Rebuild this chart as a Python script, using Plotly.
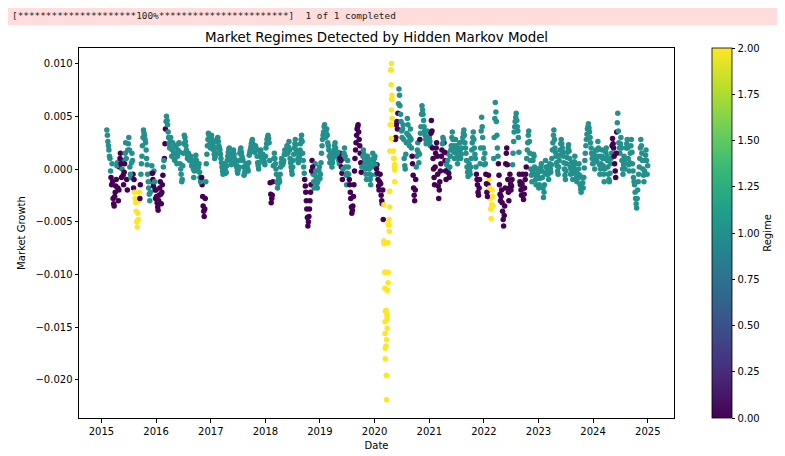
import pandas as pd
import plotly.graph_objects as go

# Readings of the rolling market growth, in thousandths, taken twice a week:
# on each Friday (from 2015-02-06) and on the Tuesday that follows it.
# Regime strings hold one digit per reading.

fri_2015 = [3.7, 2.6, 1.8, 1.0, -0.8, 0.5, -2.8, -3.5, -2.2, -1.0, 0.6, -3.0,
            0.2, 1.5, -0.8, 0.8, -1.5, 0.5, 2.5, -1.0, 1.8, 3.0, 0.2, -0.8, 1.5, -0.5,
            -1.0, -2.8, -4.0, -5.5, -4.8, -2.2, -1.5, 0.5, 2.2, 3.7, 3.2, 2.5, 1.0,
            -0.5, -1.8, -3.0, -1.2, 0.3, -1.0, -0.2, -2.0]
fri_reg_2015 = "1111" "0100" "0010" "00010" "0101" "11110" "0222" "2201" "11111" "1111" "1010"
tue_2015 = [3.2, 2.2, 1.2, -0.2, -1.5, -1.2, -3.3, -2.6, -1.6, 0.3, -1.8, -2.0,
            1.0, 0.5, 0.0, -0.6, -0.3, 1.5, 1.0, -2.0, 2.4, 1.8, -0.5, 0.6, 0.8, -1.8,
            -2.2, -3.2, -5.0, -4.2, -3.0, -2.8, -0.5, 1.2, 3.0, 3.4, 2.8, 1.8, 0.4,
            -1.2, -2.4, -2.2, -0.4, -0.4, -1.6, -1.2, -2.8]
tue_reg_2015 = "1111" "0000" "0100" "00100" "1101" "11110" "2222" "2011" "11111" "1111" "0010"

fri_2016 = [-2.0, -3.2, -3.9, -2.5, -1.2, -3.3, -1.5, 0.2, 1.0, 3.8, 5.0, 4.2, 3.0,
            2.0, 3.0, 1.2, 2.5, 1.5, 0.8, 2.2, 0.5, 1.8, 2.5, 0.5, -0.5, -1.0,
            1.5, 3.2, 2.6, 1.8, 1.0, 1.5, 0.8, 1.2, 0.3, 0.6, -0.8, 0.4, 1.3, 0.2,
            -0.2, 0.5, -0.8, -1.0, -1.5, -3.5, -4.5, -2.8, 0.5, 2.2, 3.4, 2.8, 2.0]
fri_reg_2016 = "00000" "0010" "0111" "11111" "1111" "1111" "11111" "1111" "11111" "1111" "0000" "11111"
tue_2016 = [-2.6, -3.6, -3.0, -1.8, -2.4, -2.2, -0.6, 0.8, 2.4, 4.5, 4.6, 3.5, 2.4,
            2.6, 2.0, 1.8, 2.0, 0.9, 1.5, 1.4, 1.2, 2.4, 1.6, 0.0, -1.2, 0.3,
            2.4, 3.0, 2.2, 1.4, 1.2, 1.1, 1.0, 0.8, 0.5, 0.0, -0.2, 0.9, 0.8, 0.0,
            0.2, -0.3, -1.2, -0.8, -2.6, -4.0, -3.8, -1.2, 1.4, 2.8, 3.2, 2.4, 2.6]
tue_reg_2016 = "00000" "0010" "1111" "11111" "1111" "1111" "11111" "1111" "11111" "1110" "0001" "11111"

fri_2017 = [3.2, 2.5, 1.8, 1.0, 1.5, 2.6, 3.0, 2.2, 1.8, 1.0, 0.2, -0.5, 0.5,
            0.0, -0.3, 0.8, 1.6, 2.0, 1.2, 0.4, 1.4, 1.8, 1.0, 0.6, 0.2, -0.4,
            0.2, 1.5, 2.0, 1.2, 0.8, -0.6, -0.2, 0.5, 0.3, -0.2, 1.3, 1.8, 2.4,
            2.8, 2.0, 1.6, 2.2, 1.8, 0.6, 0.0, 1.2, 1.8, 1.0, 1.4, 0.8, 0.4]
fri_reg_2017 = "1" * 52
tue_2017 = [2.8, 2.2, 1.4, 1.2, 2.0, 2.9, 2.6, 2.0, 1.4, 0.6, -0.2, 0.0, 0.2,
            -0.4, 0.3, 1.2, 1.9, 1.6, 0.8, 0.9, 1.6, 1.4, 0.8, 0.4, -0.2, -0.1,
            0.8, 1.8, 1.6, 1.0, 0.2, -0.4, 0.2, 0.4, 0.0, 0.6, 1.6, 2.1, 2.6,
            2.4, 1.8, 1.9, 2.0, 1.2, 0.3, 0.6, 1.5, 1.4, 1.2, 1.1, 0.6, 1.2]
tue_reg_2017 = "1" * 52

fri_2018 = [2.0, 2.8, 3.2, 2.5, -1.3, -3.2, -2.5, 0.3, 1.5, 0.5, -0.5, -1.8, -0.8,
            -1.2, 0.2, 1.0, 0.4, 0.8, 1.8, 1.4, 2.2, 1.5, 2.6, 1.0, 0.2, -0.5,
            0.8, 2.0, 2.8, 1.8, 1.5, 0.6, 1.2, 2.4, 3.2, 1.5, 0.2, -1.0, -2.2,
            -3.8, -5.4, -4.5, -3.0, -1.5, 0.8, -0.5, -1.8, 0.5, -1.0, -1.8, -0.8, 0.2]
fri_reg_2018 = "1111" "0001" "11111" "1111" "1111" "11111" "1111" "11111" "1100" "0000" "00111" "1111"
tue_2018 = [2.4, 3.0, 2.9, 0.8, -2.4, -2.8, -1.2, 1.0, 1.0, 0.0, -1.2, -1.4, -1.0,
            -0.5, 0.6, 0.7, 0.6, 1.4, 1.6, 1.8, 1.9, 2.1, 1.8, 0.6, -0.2, 0.2,
            1.4, 2.4, 2.3, 1.6, 1.0, 0.9, 1.8, 2.8, 2.6, 0.8, -0.4, -1.6, -3.0,
            -4.6, -5.0, -3.8, -2.2, -0.2, 0.2, -1.2, -0.6, -0.2, -1.4, -1.2, -0.2, -0.9]
tue_reg_2018 = "1111" "0001" "11111" "1111" "1111" "11111" "1111" "11111" "1100" "0000" "00111" "1111"

fri_2019 = [-0.5, 1.5, 2.8, 3.5, 4.2, 3.0, 3.8, 2.5, 1.8, 0.6, 1.5, 0.2, 1.0,
            1.8, 2.5, 1.6, 1.2, 1.2, 0.5, 1.5, 0.2, -1.0, 1.0, 2.0, 0.2, -1.5,
            0.8, -0.5, -1.5, -2.8, -4.2, -3.5, -1.5, 1.0, 2.5, 3.8, 4.2, 2.8, 1.5,
            -0.3, 0.5, 1.8, 1.0, 0.0, -1.0, 1.2, 0.5, -0.5, -1.5, 0.2, 1.5, 0.6]
fri_reg_2019 = "1111" "1111" "11111" "1111" "11000" "1111" "1100" "00000" "0000" "0111" "11111" "1111"
tue_2019 = [0.6, 2.2, 3.2, 4.0, 3.6, 3.4, 3.2, 2.2, 1.2, 1.0, 0.8, 0.6, 1.4,
            2.2, 2.0, 1.4, 1.6, 0.8, 1.0, 0.8, -0.4, 0.0, 1.5, 1.2, -0.6, -0.4,
            0.2, -1.0, -2.2, -3.6, -3.9, -2.6, -0.2, 1.8, 3.2, 4.0, 3.5, 2.2, 0.6,
            0.2, 1.2, 1.4, 0.5, -0.5, 0.3, 0.8, 0.0, -1.0, -0.6, 0.9, 1.0, 1.0]
tue_reg_2019 = "1111" "1111" "11111" "1111" "10001" "1111" "1000" "00000" "0000" "1111" "11111" "1111"

fri_2020 = [1.2, -0.5, 0.4, -1.0, -2.0, -0.5, -2.5, -3.3, -4.8, -7.0, -13.5, -19.6, -11.5,
            -5.3, -2.1, 9.4, 6.6, 2.9, 1.0, 0.4, 3.0, 4.5, 5.3, 7.6, 6.0, 4.5,
            3.0, 4.2, 1.0, 0.0, 2.5, 4.8, 3.2, 2.2, 3.8, 2.0, 0.5, -1.8, -3.0,
            -1.0, 1.2, 2.5, 0.6, 2.8, 4.0, 6.0, 5.2, 4.0, 3.2, 2.4, 3.6, 2.5]
fri_reg_2020 = "11000" "0000" "2222" "2222" "22200" "0111" "11111" "1111" "1000" "01110" "1111" "1111"
tue_2020 = [0.4, 0.0, -0.4, -1.6, -1.2, -1.4, -3.0, -2.0, -3.4, -9.8, -16.8, -14.0, -7.0,
            -4.8, 4.2, 8.0, 4.8, 1.7, 0.2, 2.8, 4.2, 3.8, 6.2, 7.0, 5.2, 3.6,
            3.8, 2.8, 0.3, 1.4, 3.4, 4.2, 2.6, 3.0, 2.8, 1.2, -0.6, -2.5, -2.0,
            0.2, 1.8, 1.6, 1.4, 3.4, 5.2, 5.6, 4.6, 3.6, 2.8, 3.0, 3.0, 2.8]
tue_reg_2020 = "10000" "0002" "2222" "2222" "22000" "1111" "11111" "1111" "0000" "11111" "1111" "1111"

fri_2021 = [3.0, 2.2, 4.6, 2.0, 0.0, -1.5, 1.5, 2.5, -0.5, -2.8, -1.2, 0.5, 1.8,
            3.0, 2.5, 0.8, -1.0, 1.5, 0.0, -0.8, 1.2, 2.2, 3.5, 2.2, 1.0, 2.8,
            1.8, 0.5, 1.5, 2.5, 1.0, 2.0, 3.0, 3.7, 2.5, 1.5, 0.2, -0.7, 0.5,
            -0.5, 1.0, 2.5, 3.5, 2.0, 1.0, -0.5, -1.5, -2.5, -1.0, 2.0, 4.9, 3.0, 1.0]
fri_reg_2021 = "11000" "0000" "0000" "10001" "1011" "1111" "11111" "1111" "1111" "11111" "1000" "01111"
tue_2021 = [2.6, 3.4, 3.6, 1.0, -0.8, 0.2, 2.0, 1.2, -1.6, -2.0, -0.2, 1.2, 2.4,
            2.8, 1.6, -0.2, 0.4, 0.8, -0.4, 0.2, 1.8, 3.0, 2.8, 1.6, 2.0, 2.2,
            1.2, 1.0, 2.0, 1.8, 1.4, 2.6, 3.4, 3.2, 2.0, 0.8, -0.3, 0.0, -0.2,
            0.2, 1.8, 3.0, 2.8, 1.4, 0.2, -1.0, -2.2, -1.8, 0.5, 3.6, 4.0, 2.0, 0.4]
tue_reg_2021 = "10000" "0000" "0001" "10011" "0111" "1111" "11111" "1111" "1111" "11111" "1000" "11111"

fri_2022 = [1.5, -0.5, -2.2, -1.5, -1.0, -2.8, -4.7, -2.0, -3.5, 3.0, 6.3, 4.5,
            2.0, 0.5, -1.5, -3.0, -2.0, -4.0, -5.4, -3.5, 0.5, 2.0, -1.0, -3.0, -0.5,
            -2.0, -1.0, 1.5, 3.5, 4.5, 5.3, 4.0, 3.0, -0.5, -1.5, -2.5, -0.5, -2.9, -1.8,
            -0.5, 1.0, 2.5, 3.6, 1.5, 0.0, -1.2, 0.8, 1.2, -0.5, -1.5, 0.0, -0.8]
fri_reg_2022 = "1000" "2222" "2111" "10000" "0000" "0000" "00111" "1110" "00000" "0111" "1111" "11111"
tue_2022 = [0.5, -1.4, -2.6, -0.6, -1.8, -3.8, -3.4, -2.6, 1.0, 4.8, 5.4, 3.2,
            1.2, -0.6, -2.4, -2.6, -3.2, -4.8, -4.4, -1.8, 1.5, 0.4, -2.2, -1.8, -1.4,
            -1.6, 0.4, 2.6, 4.0, 4.9, 4.6, 3.6, 1.6, -1.2, -2.0, -1.4, -1.8, -2.4, -1.0,
            0.2, 1.8, 3.2, 2.6, 0.8, -0.6, -0.2, 1.4, 0.2, -1.0, -0.8, -0.4, -1.8]
tue_reg_2022 = "1000" "2222" "1111" "10000" "0000" "0000" "01111" "1110" "00000" "0111" "1111" "11111"

fri_2023 = [-1.5, -0.2, 0.5, -0.8, -2.7, -1.5, 0.8, -0.5, 0.2, -1.0, 0.5, -0.3, 1.0,
            2.5, 3.7, 2.0, 1.2, 0.3, -0.5, 0.8, 1.8, 2.8, 2.0, 1.2, 0.0, -1.0,
            0.5, 1.6, 2.3, 1.0, -0.5, 0.6, -1.0, 0.2, 1.2, -0.2, -1.2, -0.5, 0.5,
            -1.5, -2.2, -0.8, -1.8, 0.1, 1.5, 2.8, 3.8, 4.3, 3.5, 2.5, 1.5, 0.5]
fri_reg_2023 = "1" * 52
tue_2023 = [-0.9, 0.2, -0.2, -1.8, -2.2, -0.4, 0.2, -0.2, -0.5, -0.2, 0.0, 0.4, 1.8,
            3.2, 2.8, 1.6, 0.6, -0.2, 0.2, 1.3, 2.4, 2.4, 1.6, 0.6, -0.6, -0.2,
            1.1, 2.0, 1.7, 0.2, 0.0, -0.3, -0.4, 0.7, 0.5, -0.8, -0.9, 0.0, -0.6,
            -1.9, -1.4, -1.3, -0.8, 0.8, 2.2, 3.3, 4.0, 3.9, 3.0, 2.0, 1.0, 1.2]
tue_reg_2023 = "1" * 52

fri_2024 = [1.5, 0.0, 1.8, 0.8, 2.6, 1.2, -0.5, 0.5, 1.8, 0.3, -1.2, 1.0, 2.0,
            0.8, -0.5, -1.2, 0.5, 1.5, 2.9, 2.0, 0.5, -0.8, 3.5, 5.3, 2.5, 1.5,
            3.0, 0.8, -0.5, 1.2, 0.0, 2.0, 2.8, 1.0, -0.2, 1.5, 2.8, 0.5, -0.8,
            -1.5, -2.8, -3.7, -2.0, -0.5, 1.0, 2.8, 1.5, 0.0, -1.2, 0.8, 1.8, -0.5]
fri_reg_2024 = "1111" "1111" "11111" "1111" "10000" "0111" "1111" "11111" "1111" "1111" "11111" "1111"
tue_2024 = [0.6, 1.0, 1.2, 1.8, 2.0, 0.4, 0.0, 1.2, 1.0, -0.5, 0.0, 1.6, 1.2,
            0.2, -1.0, -0.4, 1.0, 2.2, 2.4, 1.2, -0.2, 1.5, 4.4, 3.6, 2.0, 2.4,
            2.0, 0.0, 0.4, 0.6, 1.0, 2.4, 2.0, 0.4, 0.6, 2.2, 1.6, -0.2, -1.2,
            -2.2, -3.3, -2.8, -1.2, 0.2, 2.0, 2.2, 0.8, -0.6, -0.2, 1.3, 0.8, 0.3]
tue_reg_2024 = "1111" "1111" "11111" "1111" "00000" "1111" "1111" "11111" "1111" "1111" "11111" "1111"

# extra daily readings inside the March-May 2020 crash (all regime 2)
spike_dates = ["2020-03-03", "2020-03-04", "2020-03-10", "2020-03-10", "2020-03-11",
               "2020-03-11", "2020-03-12", "2020-03-12", "2020-03-18", "2020-03-21",
               "2020-03-21", "2020-03-21", "2020-03-25", "2020-03-25", "2020-03-25",
               "2020-03-25", "2020-04-01", "2020-04-01", "2020-04-01", "2020-04-08",
               "2020-04-08", "2020-04-12", "2020-04-12", "2020-04-12", "2020-04-23",
               "2020-04-23", "2020-04-23", "2020-04-23", "2020-04-23", "2020-04-27",
               "2020-04-27", "2020-05-11", "2020-05-15", "2020-05-15", "2020-05-15"]
spike_growth = [-6.8, -7.1, -9.8, -11.3, -14.5, -15.6, -17.0, -18.0, -13.4, -16.2,
                -19.6, -21.9, -13.8, -14.3, -15.1, -11.5, -9.8, -10.8, -5.2, -5.9,
                -5.3, -3.6, -2.1, 1.7, 10.0, 9.4, 5.6, 4.2, 2.9, 7.0,
                6.6, 1.0, 0.4, -0.1, -1.2]

fri_growth = [fri_2015, fri_2016, fri_2017, fri_2018, fri_2019,
              fri_2020, fri_2021, fri_2022, fri_2023, fri_2024]
fri_regime = [fri_reg_2015, fri_reg_2016, fri_reg_2017, fri_reg_2018, fri_reg_2019,
              fri_reg_2020, fri_reg_2021, fri_reg_2022, fri_reg_2023, fri_reg_2024]
tue_growth = [tue_2015, tue_2016, tue_2017, tue_2018, tue_2019,
              tue_2020, tue_2021, tue_2022, tue_2023, tue_2024]
tue_regime = [tue_reg_2015, tue_reg_2016, tue_reg_2017, tue_reg_2018, tue_reg_2019,
              tue_reg_2020, tue_reg_2021, tue_reg_2022, tue_reg_2023, tue_reg_2024]


def flatten(years, scale=1000):
    return [v / scale for year in years for v in year]


fridays = pd.date_range("2015-02-06", periods=sum(len(y) for y in fri_growth), freq="W-FRI")
tuesdays = fridays + pd.Timedelta(days=4)

x = list(fridays) + list(tuesdays)[:sum(len(y) for y in tue_growth)] + list(pd.to_datetime(spike_dates))
y = flatten(fri_growth) + flatten(tue_growth) + [v / 1000 for v in spike_growth]
regime = ([int(c) for c in "".join(fri_regime)] + [int(c) for c in "".join(tue_regime)]
          + [2] * len(spike_growth))

font = "DejaVu Sans"
axis_style = dict(showline=True, mirror=True, linecolor="black", linewidth=1,
                  ticks="outside", ticklen=3.5, tickcolor="black", showgrid=False,
                  zeroline=False, automargin=False, tickfont=dict(size=10, color="black"))

fig = go.Figure(go.Scatter(x=x, y=y, mode="markers", showlegend=False,
                           marker=dict(size=5.5, color=regime, coloraxis="coloraxis")))

# progress bar printed by the data download
fig.add_shape(type="rect", xref="paper", yref="paper", x0=-0.121, x1=1.2,
              y0=1.062, y1=1.119, fillcolor="#ffdddd", line=dict(width=0), layer="below")
fig.add_annotation(xref="paper", yref="paper", x=-0.1155, y=1.089,
                   xanchor="left", yanchor="middle", showarrow=False,
                   text="[*********************100%***********************]  1 of 1 completed",
                   font=dict(family="DejaVu Sans Mono", size=9.4, color="#222222"))

fig.update_layout(
    width=777, height=448,
    margin=dict(l=71, r=111, t=40, b=38),
    paper_bgcolor="white", plot_bgcolor="white",
    font=dict(family=font, size=10, color="black"),
    title=dict(text="Market Regimes Detected by Hidden Markov Model",
               x=0.5, xref="paper", y=0.935, xanchor="center", yanchor="middle",
               font=dict(size=13.4, color="black")),
    xaxis=dict(axis_style, type="date", title=dict(text="Date", standoff=6, font=dict(size=10)),
               range=["2014-08-04", "2025-06-25"], dtick="M12", tick0="2015-01-01",
               tickformat="%Y"),
    yaxis=dict(axis_style, title=dict(text="Market Growth", standoff=7, font=dict(size=10)),
               range=[-0.02362, 0.01148], dtick=0.005, tick0=0, tickformat=".3f"),
    coloraxis=dict(colorscale="Viridis", cmin=0, cmax=2,
                   colorbar=dict(x=1.064, xanchor="left", y=0.5, yanchor="middle",
                                 len=1, lenmode="fraction", thickness=20,
                                 outlinewidth=0.8, outlinecolor="black",
                                 ticks="outside", ticklen=3.5, tickcolor="black",
                                 tickvals=[0, 0.25, 0.5, 0.75, 1, 1.25, 1.5, 1.75, 2],
                                 tickformat=".2f", tickfont=dict(size=10),
                                 xpad=0, ypad=0,
                                 title=dict(text="Regime", side="right", font=dict(size=10)))),
)

fig.write_html("out.html")
